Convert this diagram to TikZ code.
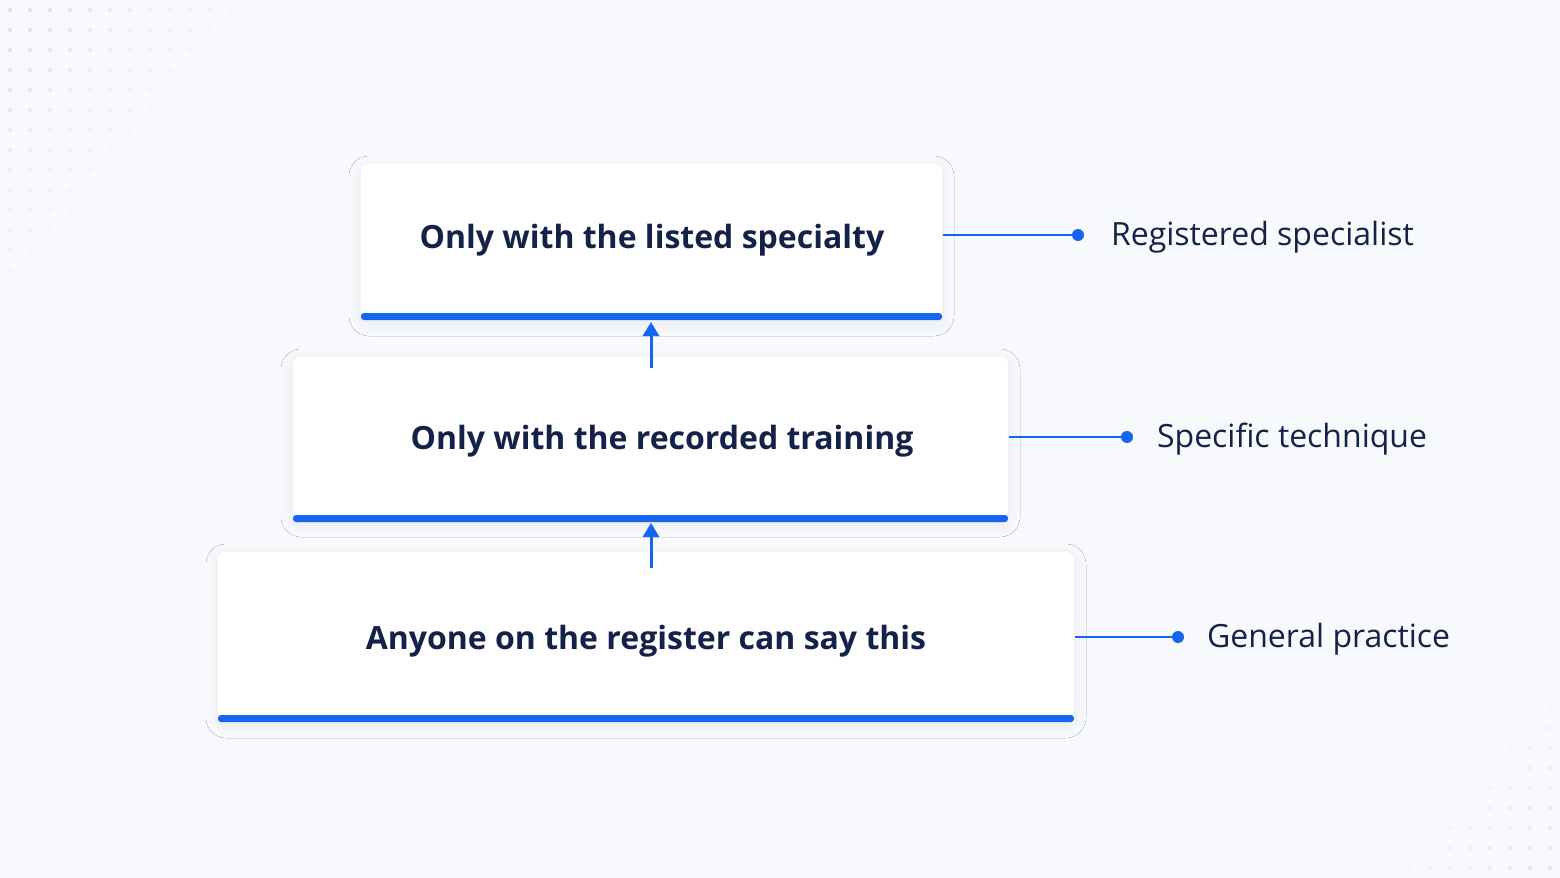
\documentclass[tikz,border=0pt]{standalone}
\usepackage{fontspec}
\setmainfont{Open Sans}
\usetikzlibrary{arrows.meta,shadows.blur}
\definecolor{navy}{HTML}{14224A}
\definecolor{accent}{HTML}{1565F0}
\definecolor{bg}{HTML}{F7F9FC}
\definecolor{dotc}{HTML}{DCE3EE}
\tikzset{
  card/.style={fill=white,rounded corners=4pt,blur shadow={shadow blur steps=10,shadow blur radius=6pt,shadow xshift=0pt,shadow yshift=-2pt,shadow opacity=6}},
  bar/.style={fill=accent,rounded corners=1.5pt},
  boxtext/.style={text=navy,font=\fontsize{16}{20}\selectfont\bfseries},
  sidetext/.style={text=navy,anchor=west,font=\fontsize{16}{19}\selectfont},
  link/.style={draw=accent,line width=1pt},
  up/.style={draw=accent,line width=1.5pt,-{Triangle[length=7pt,width=8pt]}},
  dotend/.style={circle,fill=accent,inner sep=0pt,minimum size=6pt}
}
\begin{document}
\begin{tikzpicture}[x=0.5pt,y=-0.5pt]
\fill[bg] (0,0) rectangle (1560,878);
\useasboundingbox (0,0) rectangle (1560,878);
\foreach \i in {0,...,12}{\foreach \j in {0,...,15}{
  \pgfmathsetmacro{\op}{max(0,1-(\i/13)-(\j/16))}
  \fill[dotc,opacity=\op] (10+20*\i,10+20*\j) circle (2.2);}}
\foreach \i in {0,...,8}{\foreach \j in {0,...,9}{
  \pgfmathsetmacro{\op}{max(0,1-(\i/9)-(\j/10))*0.8}
  \fill[dotc,opacity=\op] (1550-20*\i,868-20*\j) circle (2.2);}}
% cards
\path[card] (361,164) rectangle (942,320);
\path[card] (293,357) rectangle (1008,521);
\path[card] (218,552) rectangle (1074,722);
\path[bar] (361,313) rectangle (942,320);
\path[bar] (293,515) rectangle (1008,522);
\path[bar] (218,715) rectangle (1074,722);
\node[boxtext] (t1) at (652,240) {Only with the listed specialty};
\node[boxtext] (t2) at (662,441) {Only with the recorded training};
\node[boxtext] (t3) at (646,641) {Anyone on the register can say this};
\coordinate (a1s) at (651,368); \coordinate (a1e) at (651,322);
\coordinate (a2s) at (651,568); \coordinate (a2e) at (651,523);
\draw[up] (a1s) -- (a1e);
\draw[up] (a2s) -- (a2e);
% side labels
\coordinate (c1) at (943,235); \node[dotend] (d1) at (1078,235) {};
\coordinate (c2) at (1009,437); \node[dotend] (d2) at (1127,437) {};
\coordinate (c3) at (1075,637); \node[dotend] (d3) at (1178,637) {};
\draw[link] (c1) -- (d1); \draw[link] (c2) -- (d2); \draw[link] (c3) -- (d3);
\node[sidetext] (l1) at (1104,237) {Registered specialist};
\node[sidetext] (l2) at (1150,439) {Specific technique};
\node[sidetext] (l3) at (1200,639) {General practice};
\end{tikzpicture}
\end{document}
